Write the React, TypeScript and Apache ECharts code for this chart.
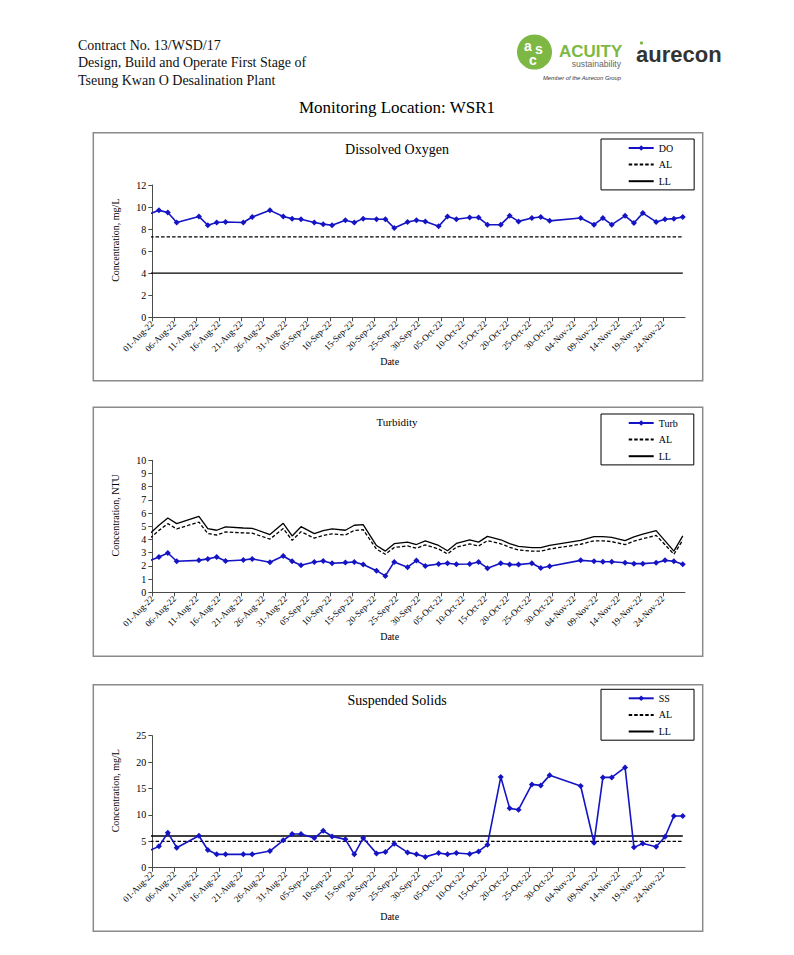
import React, { useEffect, useRef } from "react";
import * as echarts from "echarts";

// ---------- DATA ----------
const sampleDates = [
  "2022-07-31", "2022-08-02", "2022-08-04", "2022-08-06", "2022-08-11", "2022-08-13", "2022-08-15", "2022-08-17",
  "2022-08-21", "2022-08-23", "2022-08-27", "2022-08-30",
  "2022-09-01", "2022-09-03", "2022-09-06", "2022-09-08", "2022-09-10", "2022-09-13", "2022-09-15", "2022-09-17",
  "2022-09-20", "2022-09-22", "2022-09-24", "2022-09-27", "2022-09-29",
  "2022-10-01", "2022-10-04", "2022-10-06", "2022-10-08", "2022-10-11", "2022-10-13", "2022-10-15", "2022-10-18",
  "2022-10-20", "2022-10-22", "2022-10-25", "2022-10-27", "2022-10-29",
  "2022-11-05", "2022-11-08", "2022-11-10", "2022-11-12", "2022-11-15", "2022-11-17", "2022-11-19", "2022-11-22",
  "2022-11-24", "2022-11-26", "2022-11-28",
];

const doValues = [
  9.4, 9.7, 9.5, 8.6, 9.15, 8.35, 8.6, 8.65, 8.6, 9.1, 9.7, 9.15,
  8.95, 8.9, 8.6, 8.45, 8.35, 8.8, 8.6, 8.95, 8.9, 8.9, 8.1, 8.65, 8.8,
  8.7, 8.25, 9.15, 8.9, 9.05, 9.05, 8.4, 8.4, 9.2, 8.7, 9.0, 9.1, 8.75,
  9.0, 8.4, 9.0, 8.4, 9.2, 8.55, 9.45, 8.65, 8.9, 8.95, 9.1,
];
const doAL = 7.3;
const doLL = 4;

const turbValues = [
  2.41, 2.68, 2.98, 2.35, 2.42, 2.53, 2.68, 2.37, 2.45, 2.53, 2.27, 2.75,
  2.35, 2.05, 2.3, 2.37, 2.2, 2.25, 2.3, 2.1, 1.64, 1.24, 2.3, 1.9, 2.4,
  2.0, 2.14, 2.2, 2.12, 2.14, 2.3, 1.83, 2.2, 2.1, 2.1, 2.2, 1.84, 1.97,
  2.42, 2.35, 2.32, 2.32, 2.24, 2.17, 2.17, 2.24, 2.42, 2.35, 2.12,
];
const turbAL = [
  4.11, 4.69, 5.2, 4.8, 5.32, 4.45, 4.34, 4.57, 4.5, 4.48, 4.03, 4.83,
  3.94, 4.59, 4.1, 4.31, 4.43, 4.34, 4.69, 4.74, 3.27, 2.88, 3.4, 3.51, 3.34,
  3.59, 3.28, 2.91, 3.42, 3.66, 3.51, 3.91, 3.67, 3.41, 3.21, 3.12, 3.12, 3.28,
  3.64, 3.9, 3.9, 3.84, 3.61, 3.88, 4.06, 4.31, 3.6, 2.88, 3.95,
];
const turbLL = [
  4.45, 5.08, 5.63, 5.2, 5.76, 4.82, 4.7, 4.95, 4.87, 4.85, 4.37, 5.23,
  4.27, 4.97, 4.44, 4.67, 4.8, 4.7, 5.08, 5.13, 3.54, 3.12, 3.68, 3.8, 3.62,
  3.89, 3.55, 3.15, 3.7, 3.97, 3.8, 4.24, 3.98, 3.69, 3.48, 3.38, 3.38, 3.55,
  3.94, 4.22, 4.22, 4.16, 3.91, 4.2, 4.4, 4.67, 3.9, 3.12, 4.28,
];

const ssValues = [
  3.32, 4.04, 6.63, 3.79, 6.06, 3.35, 2.53, 2.53, 2.53, 2.53, 3.16, 5.18,
  6.38, 6.38, 5.62, 7.0, 5.93, 5.37, 2.53, 5.62, 2.71, 2.97, 4.55, 2.9, 2.53,
  2.05, 2.78, 2.53, 2.78, 2.59, 3.09, 4.36, 17.17, 11.24, 10.98, 15.78, 15.59, 17.49,
  15.47, 4.73, 17.1, 17.1, 19.0, 3.85, 4.6, 3.98, 5.87, 9.78, 9.78,
];
const ssAL = 5;
const ssLL = 6;

const axisStart = "2022-08-01";
const axisEnd = "2022-11-29";
const tickDays = 5;
const monthNames = ["Jan", "Feb", "Mar", "Apr", "May", "Jun", "Jul", "Aug", "Sep", "Oct", "Nov", "Dec"];

const headerLines = [
  "Contract No. 13/WSD/17",
  "Design, Build and Operate First Stage of",
  "Tseung Kwan O Desalination Plant",
];
const pageTitle = "Monitoring Location: WSR1";

// ---------- HELPERS ----------
const DAY = 86400000;
const dayStart = (d: string) => {
  const [y, m, dd] = d.split("-").map(Number);
  return Date.UTC(y, m - 1, dd);
};
// Excel date axis places each day's point in the middle of the day slot
const slot = (d: string) => dayStart(d) + DAY / 2;
const fmtDate = (v: number) => {
  const d = new Date(v);
  const dd = String(d.getUTCDate()).padStart(2, "0");
  return `${dd}-${monthNames[d.getUTCMonth()]}-${String(d.getUTCFullYear()).slice(2)}`;
};

const SERIF = '"Liberation Serif", "Times New Roman", serif';
const SANS = '"Liberation Sans", Arial, sans-serif';
const BLUE = "#1414c4";
const AXIS = "#4a4a4a";

const GRID_LEFT = 152.3;
const GRID_W = 532.7;

const pairs = (vals: number[]) => sampleDates.map((d, i) => [slot(d), vals[i]]);
const constLine = (v: number) => [
  [slot(sampleDates[0]), v],
  [slot(sampleDates[sampleDates.length - 1]), v],
];

export default function App() {
  const ref = useRef<HTMLDivElement>(null);

  useEffect(() => {
    if (!ref.current) return;
    const chart = echarts.init(ref.current, undefined, { renderer: "svg" });

    const grids = [
      { left: GRID_LEFT, top: 185, width: GRID_W, height: 132.3 },
      { left: GRID_LEFT, top: 460.3, width: GRID_W, height: 132 },
      { left: GRID_LEFT, top: 735.7, width: GRID_W, height: 132 },
    ];

    const mkX = (gi: number, nameGap: number) => ({
      type: "value",
      gridIndex: gi,
      min: dayStart(axisStart),
      max: dayStart(axisEnd),
      interval: tickDays * DAY,
      name: "Date",
      nameLocation: "middle",
      nameGap,
      nameTextStyle: { fontFamily: SERIF, fontSize: 10, color: "#000", padding: [0, 58, 0, 0] },
      axisLine: { show: true, lineStyle: { color: AXIS, width: 1 } },
      axisTick: { show: true, length: 4, lineStyle: { color: AXIS } },
      splitLine: { show: false },
      axisLabel: {
        formatter: (v: number) => fmtDate(v),
        rotate: 45,
        fontFamily: SERIF,
        fontSize: 9,
        color: "#000",
        margin: 5,
        showMaxLabel: false,
      },
    });

    const mkY = (gi: number, max: number, interval: number, name: string) => ({
      type: "value",
      gridIndex: gi,
      min: 0,
      max,
      interval,
      name,
      nameLocation: "middle",
      nameGap: 32,
      nameTextStyle: { fontFamily: SERIF, fontSize: 10, color: "#000", padding: [0, 0, 0, 22] },
      axisLine: { show: true, lineStyle: { color: AXIS, width: 1 } },
      axisTick: { show: true, length: 4, lineStyle: { color: AXIS } },
      splitLine: { show: false },
      axisLabel: { fontFamily: SERIF, fontSize: 10, color: "#000", margin: 6 },
    });

    const mainSeries = (gi: number, name: string, vals: number[]) => ({
      type: "line",
      name,
      xAxisIndex: gi,
      yAxisIndex: gi,
      data: pairs(vals),
      symbol: "diamond",
      symbolSize: 6,
      showAllSymbol: true,
      clip: true,
      lineStyle: { color: BLUE, width: 1.6 },
      itemStyle: { color: BLUE },
      z: 5,
    });
    const limitSeries = (gi: number, name: string, data: number[][], dashed: boolean) => ({
      type: "line",
      name,
      xAxisIndex: gi,
      yAxisIndex: gi,
      data,
      symbol: "none",
      clip: true,
      lineStyle: { color: "#000", width: 1.3, type: dashed ? [3.5, 2] : "solid" },
      itemStyle: { color: "#000" },
      z: 3,
    });

    const mkLegend = (top: number, main: string, rightPad: number) => ({
      orient: "vertical",
      left: 601,
      top,
      padding: [4, rightPad, 3.7, 26.7],
      borderColor: "#000",
      borderWidth: 1,
      backgroundColor: "#fff",
      itemWidth: 25,
      itemHeight: 7,
      itemGap: 6.6,
      selectedMode: false,
      textStyle: { fontFamily: SERIF, fontSize: 10, color: "#000" },
      data: [
        { name: main },
        { name: "AL", itemStyle: { opacity: 0 } },
        { name: "LL", itemStyle: { opacity: 0 } },
      ],
    });

    const titleStyle = (size: number) => ({ fontFamily: SERIF, fontSize: size, fontWeight: "normal", color: "#000" });

    const panelRect = (y: number, h: number) => ({
      type: "rect",
      shape: { x: 93.3, y, width: 609.4, height: h },
      style: { fill: "none", stroke: "#8a8a8a", lineWidth: 1.5 },
      z: 0,
    });

    const option: any = {
      animation: false,
      backgroundColor: "#fff",
      title: [
        { text: pageTitle, left: "center", top: 99, padding: 0, textStyle: titleStyle(17) },
        { text: "Dissolved Oxygen", left: "center", top: 142, padding: 0, textStyle: titleStyle(14) },
        { text: "Turbidity", left: "center", top: 416.5, padding: 0, textStyle: titleStyle(11) },
        { text: "Suspended Solids", left: "center", top: 693, padding: 0, textStyle: titleStyle(14) },
      ],
      legend: [mkLegend(139, "DO", 21), mkLegend(414, "Turb", 16), mkLegend(689.3, "SS", 22)],
      grid: grids,
      xAxis: [mkX(0, 32), mkX(1, 32), mkX(2, 44)],
      yAxis: [
        mkY(0, 12, 2, "Concentration, mg/L"),
        mkY(1, 10, 1, "Concentration, NTU"),
        mkY(2, 25, 5, "Concentration, mg/L"),
      ],
      series: [
        mainSeries(0, "DO", doValues),
        limitSeries(0, "AL", constLine(doAL), true),
        limitSeries(0, "LL", constLine(doLL), false),
        mainSeries(1, "Turb", turbValues),
        limitSeries(1, "AL", pairs(turbAL), true),
        limitSeries(1, "LL", pairs(turbLL), false),
        mainSeries(2, "SS", ssValues),
        limitSeries(2, "AL", constLine(ssAL), true),
        limitSeries(2, "LL", constLine(ssLL), false),
      ],
      graphic: [
        panelRect(132.7, 248),
        panelRect(407.3, 249),
        panelRect(684.7, 246.6),
        ...headerLines.map((t, i) => ({
          type: "text",
          x: 78,
          y: 45 + i * 17.6,
          style: {
            text: t,
            fontFamily: SERIF,
            fontSize: 14,
            fill: "#111",
            textAlign: "left",
            textVerticalAlign: "middle",
          },
        })),
        // ACUITY logo
        { type: "circle", shape: { cx: 534.5, cy: 52, r: 17.5 }, style: { fill: "#7cb843" } },
        {
          type: "text", x: 528, y: 46,
          style: { text: "a", fontFamily: SANS, fontSize: 14, fontWeight: "bold", fill: "#fff", textAlign: "center", textVerticalAlign: "middle" },
        },
        {
          type: "text", x: 539, y: 49,
          style: { text: "s", fontFamily: SANS, fontSize: 14, fontWeight: "bold", fill: "#fff", textAlign: "center", textVerticalAlign: "middle" },
        },
        {
          type: "text", x: 533, y: 60,
          style: { text: "c", fontFamily: SANS, fontSize: 14, fontWeight: "bold", fill: "#fff", textAlign: "center", textVerticalAlign: "middle" },
        },
        {
          type: "text", x: 559, y: 51,
          style: { text: "ACUITY", fontFamily: SANS, fontSize: 17, fontWeight: "bold", fill: "#7cb843", textAlign: "left", textVerticalAlign: "middle" },
        },
        {
          type: "text", x: 621, y: 64,
          style: { text: "sustainability", fontFamily: SANS, fontSize: 8.6, fill: "#666", textAlign: "right", textVerticalAlign: "middle" },
        },
        {
          type: "text", x: 621, y: 77.5,
          style: { text: "Member of the Aurecon Group", fontFamily: SANS, fontSize: 5.8, fontStyle: "italic", fill: "#333", textAlign: "right", textVerticalAlign: "middle" },
        },
        // aurecon logo
        { type: "circle", shape: { cx: 641.5, cy: 43, r: 1.6 }, style: { fill: "#7cb843" } },
        {
          type: "text", x: 636, y: 54,
          style: { text: "aurecon", fontFamily: SANS, fontSize: 22, fontWeight: "bold", fill: "#333", textAlign: "left", textVerticalAlign: "middle" },
        },
      ],
    };

    chart.setOption(option);
    return () => chart.dispose();
  }, []);

  return (
    <div
      ref={ref}
      style={{ position: "absolute", left: 0, top: 0, width: 794, height: 955, background: "#fff" }}
    />
  );
}
